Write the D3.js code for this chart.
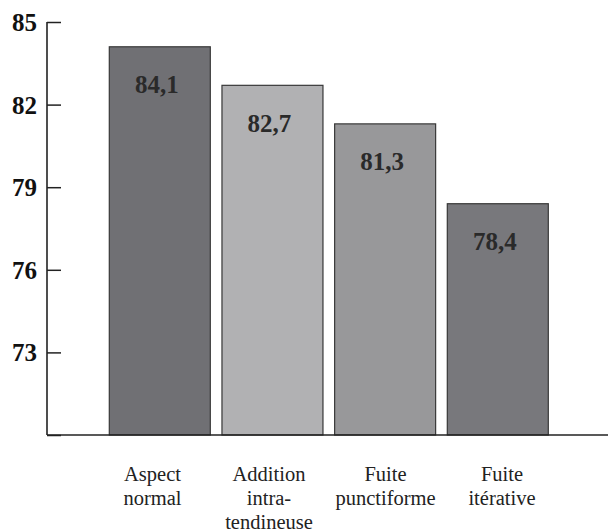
<!DOCTYPE html>
<html>
<head>
<meta charset="utf-8">
<script src="https://cdn.jsdelivr.net/npm/d3@7"></script>
<style>
  html, body { margin: 0; padding: 0; background: #fff; }
  svg { display: block; }
</style>
</head>
<body>
<svg id="chart" width="608" height="531"></svg>
<script>
// Categories (multi-line labels) and their values
const categories = [
  ["Aspect", "normal"],
  ["Addition", "intra-", "tendineuse"],
  ["Fuite", "punctiforme"],
  ["Fuite", "itérative"]
];
const values = [84.1, 82.7, 81.3, 78.4];
const valueLabels = ["84,1", "82,7", "81,3", "78,4"];
const barColors = ["#707074", "#b1b1b3", "#98989a", "#78787c"];
const yTicks = [70, 73, 76, 79, 82, 85];

const svg = d3.select("#chart");
const serif = "'Liberation Serif', 'Times New Roman', serif";

const axisX = 47, yTop = 22, yBottom = 435;

const y = d3.scaleLinear().domain([70, 85]).range([yBottom, yTop]);
const keys = categories.map((c, i) => i);
const x = d3.scaleBand().domain(keys).range([109.3, 548.3]).paddingInner(0.1036).paddingOuter(0);
const xLabel = d3.scalePoint().domain(keys).range([152.5, 502]);

// Bars
svg.append("g").selectAll("rect")
  .data(values)
  .join("rect")
  .attr("x", (d, i) => x(i))
  .attr("y", d => y(d))
  .attr("width", x.bandwidth())
  .attr("height", d => y(70) - y(d))
  .attr("fill", (d, i) => barColors[i])
  .attr("stroke", "#383838")
  .attr("stroke-width", 1.2);

// Value labels inside bars
svg.append("g").selectAll("text")
  .data(values)
  .join("text")
  .attr("x", (d, i) => x(i) + x.bandwidth() / 2 - 3)
  .attr("y", d => y(d) + 46.5)
  .attr("text-anchor", "middle")
  .attr("font-family", serif)
  .attr("font-weight", "bold")
  .attr("font-size", 25)
  .attr("fill", "#2a2a2a")
  .text((d, i) => valueLabels[i]);

// Y axis
const yAxis = d3.axisRight(y).tickValues(yTicks).tickSize(14).tickFormat("");
const ga = svg.append("g").attr("transform", `translate(${axisX},0)`).call(yAxis);
ga.select(".domain").remove();
ga.selectAll(".tick line").attr("stroke", "#222").attr("stroke-width", 1.5);

svg.append("line")
  .attr("x1", axisX).attr("x2", axisX)
  .attr("y1", y(85)).attr("y2", y(70))
  .attr("stroke", "#222").attr("stroke-width", 1.6);

// Baseline
svg.append("line")
  .attr("x1", axisX).attr("x2", 608)
  .attr("y1", y(70)).attr("y2", y(70))
  .attr("stroke", "#222").attr("stroke-width", 1.6);

// Tick labels (70 is unlabeled)
svg.append("g").selectAll("text")
  .data(yTicks.filter(t => t !== 70))
  .join("text")
  .attr("x", 37)
  .attr("y", d => y(d) + 9)
  .attr("text-anchor", "end")
  .attr("font-family", serif)
  .attr("font-weight", "bold")
  .attr("font-size", 25)
  .attr("fill", "#111")
  .text(d => d);

// Category labels
const cat = svg.append("g").selectAll("text")
  .data(categories)
  .join("text")
  .attr("x", (d, i) => xLabel(i))
  .attr("y", 481)
  .attr("text-anchor", "middle")
  .attr("font-family", serif)
  .attr("font-size", 20.5)
  .attr("fill", "#222");
cat.selectAll("tspan")
  .data(d => d)
  .join("tspan")
  .attr("x", function () { return d3.select(this.parentNode).attr("x"); })
  .attr("dy", (d, j) => j === 0 ? 0 : 24)
  .text(d => d);
</script>
</body>
</html>
